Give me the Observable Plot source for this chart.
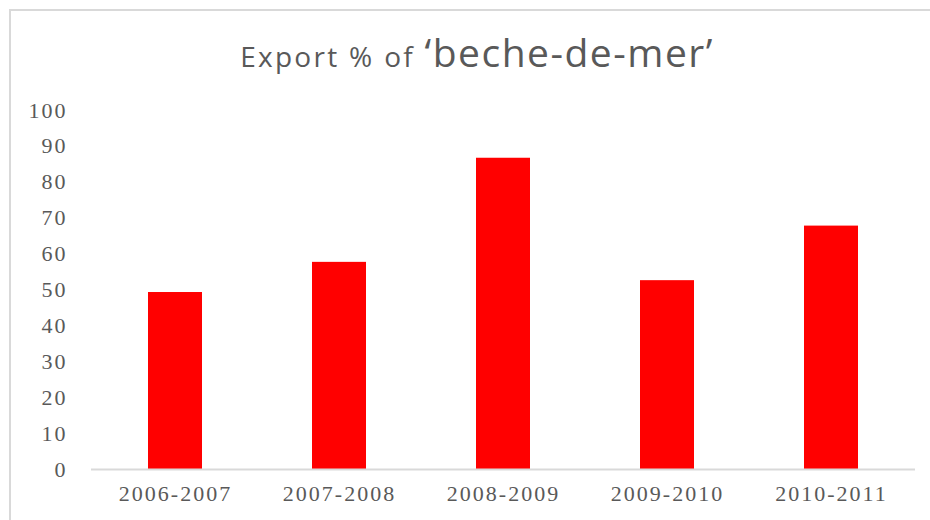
<!DOCTYPE html>
<html>
<head>
<meta charset="utf-8">
<script src="https://cdn.jsdelivr.net/npm/d3@7"></script>
<script src="https://cdn.jsdelivr.net/npm/@observablehq/plot@0.6"></script>
<style>
  html, body { margin: 0; padding: 0; background: #fff; }
  #wrap { position: relative; width: 930px; height: 520px; overflow: hidden; background: #fff; }
  #frame { position: absolute; left: 9px; top: 9px; width: 1000px; height: 1000px;
           border-top: 2px solid #d9d9d9; border-left: 2px solid #d9d9d9; }
  #title { position: absolute; left: 0; width: 954px; top: 25px; text-align: center;
           font-family: "Open Sans", sans-serif; color: #595959; white-space: nowrap; }
  #title .a { font-size: 28px; letter-spacing: 2.3px; }
  #title .b { font-size: 39px; letter-spacing: 1.5px; }
  #chart { position: absolute; left: 0; top: 95px; }
  #chart text { letter-spacing: 2px; }
</style>
</head>
<body>
<div id="wrap">
  <div id="frame"></div>
  <div id="title"><span class="a">Export % of </span><span class="b">‘beche-de-mer’</span></div>
  <div id="chart"></div>
</div>
<script>
const years = ["2006-2007", "2007-2008", "2008-2009", "2009-2010", "2010-2011"];
const exportPct = [49.3, 57.7, 86.7, 52.6, 67.8];
const yTicks = [0, 10, 20, 30, 40, 50, 60, 70, 80, 90, 100];

const data = years.map((y, i) => ({year: y, value: exportPct[i]}));

const plot = Plot.plot({
  width: 930,
  height: 425,
  marginTop: 15,
  marginBottom: 51,
  marginLeft: 91,
  marginRight: 15,
  style: {fontFamily: "'Liberation Serif', 'Times New Roman', serif", fontSize: "22px", color: "#595959", background: "transparent"},
  x: {domain: years, paddingInner: 0.67, paddingOuter: 0.335, label: null},
  y: {domain: [0, 100], label: null},
  marks: [
    Plot.barY(data, {x: "year", y: "value", fill: "#ff0000"}),
    Plot.ruleY([0], {stroke: "#d9d9d9", strokeWidth: 2}),
    Plot.axisY({ticks: yTicks, tickSize: 0, tickPadding: 24, label: null, fill: "#595959"}),
    Plot.axisX({tickSize: 0, tickPadding: 16, label: null, fill: "#595959"})
  ]
});
document.getElementById("chart").appendChild(plot);
</script>
</body>
</html>
